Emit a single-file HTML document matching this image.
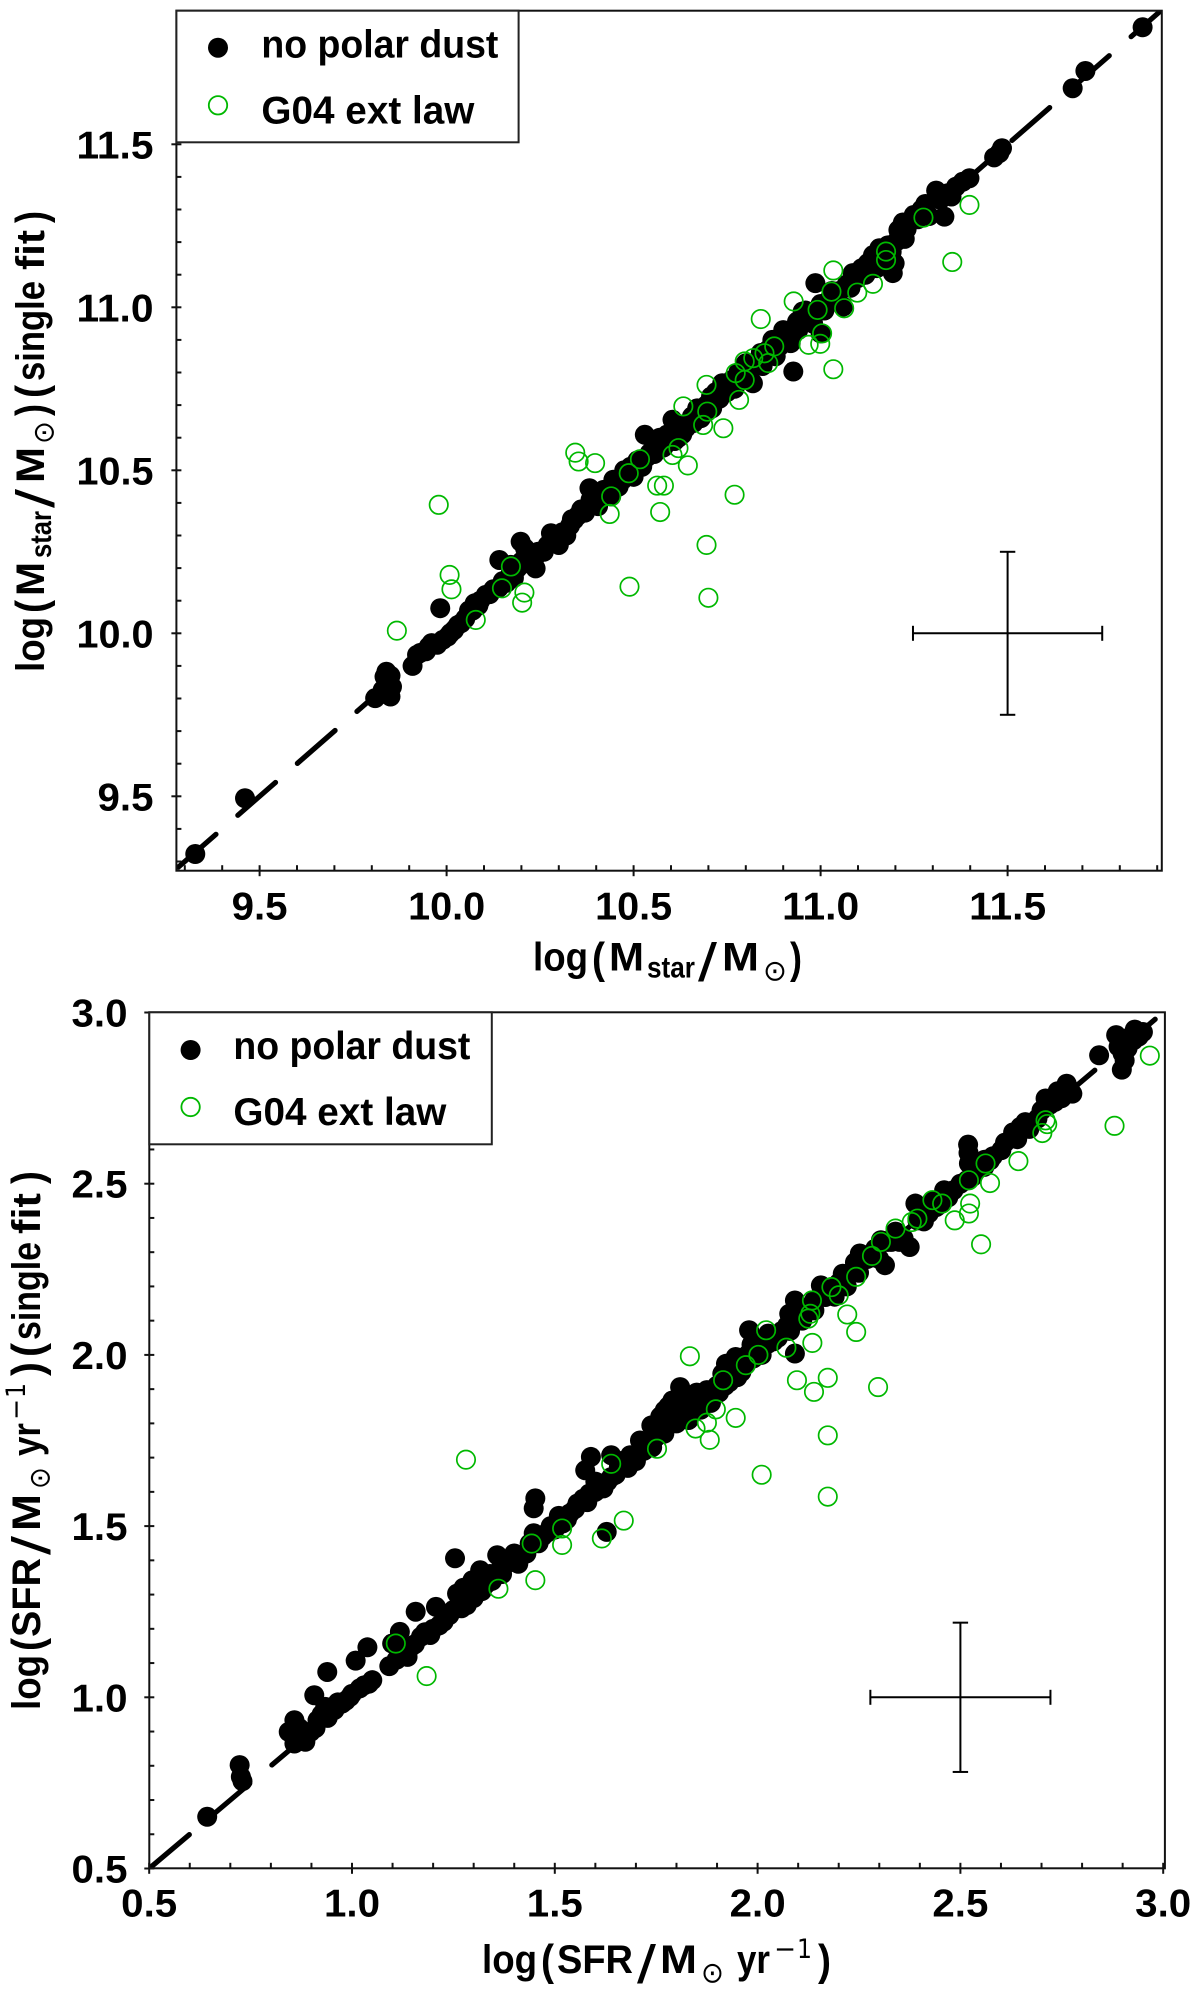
<!DOCTYPE html>
<html lang="en">
<head>
<meta charset="utf-8">
<title>Stellar mass and SFR comparison</title>
<style>
html,body{margin:0;padding:0;background:#fff;}
svg{display:block;}
text{font-family:"Liberation Sans","DejaVu Sans",sans-serif;font-weight:bold;fill:#000;}
.sym{font-family:"DejaVu Sans","Liberation Sans",sans-serif;font-weight:normal;}
.thin{font-weight:normal;}
</style>
</head>
<body>
<svg id="chart" xmlns="http://www.w3.org/2000/svg" width="1200" height="1989" viewBox="0 0 1200 1989">
  <rect x="0" y="0" width="1200" height="1989" fill="#fff"/>
  <g id="panel-mass"></g>
  <g id="panel-sfr"></g>

  <g>
    <text x="533" y="970.7" font-size="40" textLength="55" lengthAdjust="spacingAndGlyphs">log</text>
    <text x="592" y="973" font-size="44" textLength="13" lengthAdjust="spacingAndGlyphs">(</text>
    <text x="609" y="970.7" font-size="40" textLength="35" lengthAdjust="spacingAndGlyphs">M</text>
    <text x="647" y="977.5" font-size="30" textLength="48" lengthAdjust="spacingAndGlyphs">star</text>
    <text class="thin" x="698" y="981" font-size="54" textLength="19" lengthAdjust="spacingAndGlyphs">/</text>
    <text x="722" y="970.7" font-size="40" textLength="37" lengthAdjust="spacingAndGlyphs">M</text>
    <text class="sym" x="763" y="980.5" font-size="29" textLength="24" lengthAdjust="spacingAndGlyphs">⊙</text>
    <text x="790" y="973" font-size="44" textLength="12" lengthAdjust="spacingAndGlyphs">)</text>
  </g>
  <g transform="translate(44,0) rotate(-90)">
    <text x="-672" y="0" font-size="40" textLength="55" lengthAdjust="spacingAndGlyphs">log</text>
    <text x="-613" y="2" font-size="44" textLength="13" lengthAdjust="spacingAndGlyphs">(</text>
    <text x="-596" y="0" font-size="40" textLength="34" lengthAdjust="spacingAndGlyphs">M</text>
    <text x="-558" y="7" font-size="30" textLength="47" lengthAdjust="spacingAndGlyphs">star</text>
    <text class="thin" x="-508" y="10" font-size="54" textLength="19" lengthAdjust="spacingAndGlyphs">/</text>
    <text x="-483" y="0" font-size="40" textLength="36" lengthAdjust="spacingAndGlyphs">M</text>
    <text class="sym" x="-444" y="9.5" font-size="29" textLength="23" lengthAdjust="spacingAndGlyphs">⊙</text>
    <text x="-416" y="2" font-size="44" textLength="12" lengthAdjust="spacingAndGlyphs">)</text>
    <text x="-398" y="2" font-size="44" textLength="13" lengthAdjust="spacingAndGlyphs">(</text>
    <text x="-381" y="0" font-size="40" textLength="100" lengthAdjust="spacingAndGlyphs">single</text>
    <text x="-270" y="0" font-size="40" textLength="40" lengthAdjust="spacingAndGlyphs">fit</text>
    <text x="-223" y="2" font-size="44" textLength="12" lengthAdjust="spacingAndGlyphs">)</text>
  </g>

  <g>
    <text x="482" y="1973" font-size="40" textLength="55" lengthAdjust="spacingAndGlyphs">log</text>
    <text x="541" y="1975" font-size="44" textLength="13" lengthAdjust="spacingAndGlyphs">(</text>
    <text x="557" y="1973" font-size="40" textLength="76" lengthAdjust="spacingAndGlyphs">SFR</text>
    <text class="thin" x="637" y="1983" font-size="54" textLength="19" lengthAdjust="spacingAndGlyphs">/</text>
    <text x="660" y="1973" font-size="40" textLength="37" lengthAdjust="spacingAndGlyphs">M</text>
    <text class="sym" x="701" y="1982.5" font-size="29" textLength="23" lengthAdjust="spacingAndGlyphs">⊙</text>
    <text x="737" y="1973" font-size="40" textLength="33" lengthAdjust="spacingAndGlyphs">yr</text>
    <text class="sym" x="774" y="1958" font-size="27" textLength="22" lengthAdjust="spacingAndGlyphs">−</text>
    <text class="sym" x="797" y="1958" font-size="27" textLength="15" lengthAdjust="spacingAndGlyphs">1</text>
    <text x="818" y="1975" font-size="44" textLength="13" lengthAdjust="spacingAndGlyphs">)</text>
  </g>
  <g transform="translate(40,0) rotate(-90)">
    <text x="-1710" y="0" font-size="40" textLength="55" lengthAdjust="spacingAndGlyphs">log</text>
    <text x="-1651" y="2" font-size="44" textLength="13" lengthAdjust="spacingAndGlyphs">(</text>
    <text x="-1637" y="0" font-size="40" textLength="79" lengthAdjust="spacingAndGlyphs">SFR</text>
    <text class="thin" x="-1555" y="10" font-size="54" textLength="19" lengthAdjust="spacingAndGlyphs">/</text>
    <text x="-1531" y="0" font-size="40" textLength="37" lengthAdjust="spacingAndGlyphs">M</text>
    <text class="sym" x="-1489" y="9.5" font-size="29" textLength="22" lengthAdjust="spacingAndGlyphs">⊙</text>
    <text x="-1456" y="0" font-size="40" textLength="33" lengthAdjust="spacingAndGlyphs">yr</text>
    <text class="sym" x="-1420" y="-15" font-size="27" textLength="21" lengthAdjust="spacingAndGlyphs">−</text>
    <text class="sym" x="-1398" y="-15" font-size="27" textLength="15" lengthAdjust="spacingAndGlyphs">1</text>
    <text x="-1376" y="2" font-size="44" textLength="14" lengthAdjust="spacingAndGlyphs">)</text>
    <text x="-1357" y="2" font-size="44" textLength="14" lengthAdjust="spacingAndGlyphs">(</text>
    <text x="-1340" y="0" font-size="40" textLength="98" lengthAdjust="spacingAndGlyphs">single</text>
    <text x="-1234" y="0" font-size="40" textLength="41" lengthAdjust="spacingAndGlyphs">fit</text>
    <text x="-1184" y="2" font-size="44" textLength="13" lengthAdjust="spacingAndGlyphs">)</text>
  </g>
</svg>

<script>
// ---------- Stellar mass panel data ----------
const massDomain = [9.2775, 11.912];
const massMajorTicks = [9.5, 10.0, 10.5, 11.0, 11.5];
const massTickLabels = ["9.5", "10.0", "10.5", "11.0", "11.5"];
const massMinorTicks = [9.3, 9.4, 9.6, 9.7, 9.8, 9.9, 10.1, 10.2, 10.3, 10.4, 10.6, 10.7, 10.8, 10.9, 11.1, 11.2, 11.3, 11.4, 11.6, 11.7, 11.8, 11.9];
const massBlackX = [9.328,9.461,9.839,9.834,9.854,9.85,9.809,9.829,9.84,9.909,
  9.921,9.952,9.975,9.983,10.003,10.02,10.039,10.06,10.075,10.09,
  10.105,10.125,10.141,10.172,10.15,10.17,10.198,10.238,10.22,10.21,
  10.245,10.279,10.3,10.31,10.341,10.33,10.36,10.382,10.39,10.41,
  10.43,10.446,10.46,10.492,10.523,10.48,10.53,10.563,10.543,10.58,
  10.604,10.62,10.64,10.656,10.686,10.707,10.695,10.737,10.763,10.75,
  10.819,10.79,10.8,10.85,10.83,10.871,10.86,10.89,10.912,10.927,
  10.937,10.952,10.94,10.97,10.994,11.0,10.986,11.06,11.02,11.045,
  11.086,11.07,11.126,11.1,11.157,11.198,11.193,11.17,11.203,11.208,
  11.23,11.249,11.28,11.26,11.309,11.331,11.32,11.362,11.398,11.464,
  11.478,11.485,11.674,11.708,11.861,
  9.85,9.845,9.93,9.945,9.96,9.99,10.01,10.03,10.05,10.07,
  10.085,10.115,10.14,10.16,10.18,10.19,10.2,10.215,10.235,10.26,
  10.27,10.285,10.295,10.32,10.335,10.35,10.37,10.385,10.405,10.42,
  10.44,10.47,10.475,10.5,10.51,10.535,10.555,10.57,10.59,10.61,
  10.625,10.63,10.66,10.67,10.68,10.71,10.72,10.73,10.77,10.78,
  10.8,10.81,10.84,10.845,10.88,10.9,10.92,10.95,10.96,10.98,
  11.0,11.01,11.03,11.05,11.08,11.11,11.12,11.14,11.15,11.18,
  11.19,11.22,11.225,11.27,11.29,11.34,11.35,11.38];
const massBlackY = [9.323,9.494,9.882,9.867,9.836,9.806,9.801,9.826,9.852,9.9,
  9.934,9.959,9.965,10.077,9.99,10.01,10.031,10.07,10.092,10.1,
  10.118,10.135,10.225,10.21,10.16,10.18,10.281,10.199,10.24,10.26,
  10.25,10.307,10.271,10.31,10.348,10.33,10.38,10.445,10.4,10.42,
  10.43,10.471,10.45,10.511,10.511,10.48,10.609,10.583,10.553,10.57,
  10.655,10.6,10.63,10.665,10.675,10.726,10.7,10.767,10.777,10.74,
  10.767,10.79,10.828,10.844,10.82,10.9,10.87,10.88,10.91,10.803,
  10.956,10.987,10.93,10.96,10.997,10.92,11.074,11.002,11.02,11.033,
  11.105,11.07,11.135,11.09,11.181,11.135,11.105,11.15,11.202,11.237,
  11.24,11.283,11.317,11.27,11.358,11.278,11.33,11.37,11.396,11.46,
  11.473,11.488,11.672,11.725,11.859,
  9.87,9.825,9.94,9.945,9.97,9.98,10.0,10.025,10.045,10.07,
  10.085,10.12,10.14,10.155,10.17,10.2,10.22,10.215,10.23,10.25,
  10.27,10.28,10.3,10.3,10.35,10.36,10.37,10.41,10.39,10.44,
  10.42,10.47,10.5,10.48,10.53,10.54,10.55,10.6,10.61,10.59,
  10.64,10.61,10.645,10.69,10.66,10.69,10.74,10.72,10.75,10.8,
  10.78,10.81,10.86,10.82,10.85,10.93,10.89,10.95,10.99,10.95,
  11.01,10.99,11.05,11.05,11.06,11.12,11.1,11.16,11.12,11.19,
  11.17,11.26,11.21,11.3,11.28,11.35,11.34,11.385];
const massGreenX = [9.867,9.979,10.008,10.013,10.078,10.148,10.172,10.208,10.202,10.344,
  10.353,10.397,10.44,10.436,10.487,10.489,10.517,10.563,10.571,10.581,
  10.604,10.62,10.633,10.645,10.686,10.695,10.695,10.697,10.7,10.74,
  10.77,10.773,10.782,10.797,10.797,10.82,10.84,10.85,10.86,10.876,
  10.928,10.968,10.992,10.999,11.004,11.029,11.034,11.034,11.063,11.098,
  11.14,11.175,11.175,11.275,11.352,11.398];
const massGreenY = [10.008,10.394,10.179,10.135,10.041,10.138,10.205,10.125,10.094,10.554,
  10.527,10.522,10.42,10.366,10.491,10.143,10.534,10.453,10.372,10.453,
  10.547,10.568,10.696,10.515,10.639,10.762,10.271,10.68,10.109,10.629,
  10.425,10.798,10.716,10.834,10.777,10.844,10.964,10.859,10.829,10.88,
  11.018,10.885,10.992,10.888,10.92,11.048,11.113,10.81,10.997,11.045,
  11.072,11.171,11.145,11.275,11.139,11.314];
const massErrorBar = [11.5, 10.0, 0.253, 0.25];

// ---------- SFR panel data ----------
const sfrDomain = [0.5, 3.0];
const sfrMajorTicks = [0.5, 1.0, 1.5, 2.0, 2.5, 3.0];
const sfrTickLabels = ["0.5", "1.0", "1.5", "2.0", "2.5", "3.0"];
const sfrMinorTicks = [0.6, 0.7, 0.8, 0.9, 1.1, 1.2, 1.3, 1.4, 1.6, 1.7, 1.8, 1.9, 2.1, 2.2, 2.3, 2.4, 2.6, 2.7, 2.8, 2.9];
const sfrBlackX = [0.643,0.723,0.726,0.73,0.844,0.858,0.858,0.87,0.898,0.907,
  0.915,0.934,0.94,0.957,0.976,0.939,0.995,1.009,1.019,1.038,
  1.042,1.092,1.099,1.118,1.137,1.146,1.157,1.17,1.193,1.207,
  1.226,1.254,1.259,1.27,1.283,1.292,1.297,1.316,1.33,1.358,
  1.368,1.396,1.415,1.438,1.448,1.448,1.452,1.47,1.49,1.52,
  1.537,1.556,1.575,1.589,1.585,1.6,1.611,1.628,1.639,1.639,
  1.658,1.67,1.686,1.71,1.738,1.73,1.75,1.762,1.771,1.78,
  1.79,1.79,1.809,1.82,1.837,1.837,1.85,1.875,1.89,1.913,
  1.922,1.93,1.946,1.95,1.969,1.979,1.985,2.0,2.026,2.026,
  2.05,2.073,2.078,2.092,2.092,2.101,2.13,2.156,2.167,2.186,
  2.21,2.238,2.252,2.285,2.304,2.314,2.33,2.347,2.375,2.389,
  2.394,2.422,2.441,2.46,2.483,2.516,2.519,2.521,2.559,2.573,
  2.601,2.629,2.648,2.7,2.71,2.733,2.762,2.776,2.842,2.884,
  2.898,2.912,2.927,2.95,
  0.87,0.885,0.91,0.925,0.945,0.965,0.985,1.0,1.03,1.05,
  1.11,1.13,1.155,1.18,1.2,1.215,1.24,1.25,1.265,1.275,
  1.285,1.3,1.31,1.32,1.34,1.345,1.37,1.38,1.4,1.41,
  1.43,1.46,1.48,1.5,1.51,1.53,1.55,1.57,1.58,1.6,
  1.62,1.63,1.65,1.66,1.68,1.7,1.71,1.72,1.74,1.75,
  1.76,1.77,1.78,1.79,1.8,1.81,1.82,1.83,1.84,1.85,
  1.86,1.87,1.885,1.9,1.905,1.92,1.94,1.96,1.975,1.99,
  2.01,2.01,2.04,2.06,2.08,2.1,2.11,2.14,2.14,2.17,
  2.19,2.2,2.22,2.24,2.25,2.27,2.29,2.3,2.32,2.34,
  2.35,2.36,2.4,2.41,2.43,2.45,2.47,2.5,2.52,2.53,
  2.54,2.56,2.58,2.61,2.63,2.64,2.66,2.67,2.69,2.72,
  2.74,2.75,2.89,2.9,2.905,2.92,2.93,2.94];
const sfrBlackY = [0.651,0.802,0.768,0.755,0.899,0.933,0.865,0.885,0.899,1.006,
  0.933,0.972,0.94,0.963,0.982,1.074,1.001,1.107,1.026,1.146,
  1.04,1.091,1.157,1.191,1.118,1.148,1.25,1.177,1.182,1.264,
  1.221,1.406,1.303,1.26,1.269,1.294,1.342,1.371,1.33,1.415,
  1.381,1.396,1.415,1.449,1.479,1.552,1.581,1.47,1.5,1.508,
  1.537,1.566,1.663,1.702,1.595,1.6,1.614,1.483,1.643,1.707,
  1.673,1.68,1.707,1.72,1.794,1.75,1.76,1.77,1.838,1.8,
  1.867,1.809,1.906,1.83,1.882,1.838,1.86,1.897,1.89,1.945,
  1.974,1.92,1.994,1.935,1.974,2.072,2.03,2.013,2.062,2.033,
  2.05,2.086,2.12,2.159,2.004,2.12,2.13,2.203,2.169,2.194,
  2.237,2.252,2.296,2.285,2.335,2.262,2.33,2.354,2.315,2.442,
  2.393,2.413,2.432,2.481,2.481,2.51,2.614,2.559,2.549,2.568,
  2.598,2.637,2.666,2.714,2.749,2.739,2.792,2.763,2.875,2.934,
  2.833,2.895,2.919,2.943,
  0.91,0.87,0.91,0.95,0.97,0.985,0.99,1.01,1.035,1.05,
  1.11,1.14,1.155,1.19,1.2,1.21,1.24,1.255,1.29,1.32,
  1.3,1.29,1.33,1.31,1.36,1.34,1.36,1.39,1.42,1.39,
  1.42,1.45,1.48,1.49,1.53,1.52,1.55,1.58,1.57,1.63,
  1.61,1.63,1.65,1.69,1.67,1.69,1.75,1.72,1.73,1.79,
  1.82,1.77,1.85,1.83,1.8,1.87,1.86,1.81,1.85,1.89,
  1.84,1.87,1.86,1.91,1.89,1.91,1.96,1.95,2.0,1.99,
  2.04,2.0,2.04,2.07,2.07,2.14,2.1,2.16,2.13,2.19,
  2.17,2.21,2.2,2.27,2.24,2.28,2.31,2.28,2.33,2.36,
  2.33,2.34,2.41,2.39,2.45,2.44,2.46,2.5,2.59,2.52,
  2.56,2.57,2.58,2.62,2.65,2.63,2.68,2.66,2.69,2.73,
  2.77,2.75,2.9,2.88,2.86,2.93,2.95,2.93];
const sfrGreenX = [1.108,1.184,1.281,1.361,1.443,1.452,1.518,1.518,1.616,1.639,
  1.67,1.752,1.833,1.847,1.875,1.882,1.897,1.915,1.946,1.971,
  2.002,2.01,2.021,2.071,2.097,2.125,2.13,2.134,2.135,2.139,
  2.173,2.173,2.173,2.182,2.2,2.221,2.243,2.243,2.282,2.297,
  2.304,2.34,2.38,2.394,2.431,2.455,2.486,2.521,2.521,2.524,
  2.551,2.562,2.573,2.643,2.702,2.71,2.714,2.88,2.967];
const sfrGreenY = [1.157,1.062,1.694,1.317,1.449,1.342,1.493,1.445,1.464,1.682,
  1.516,1.726,1.996,1.785,1.802,1.752,1.841,1.926,1.816,1.97,
  2.0,1.65,2.072,2.021,1.926,2.106,2.12,2.159,2.035,1.892,
  1.933,1.765,1.586,2.198,2.174,2.118,2.228,2.067,2.289,1.906,
  2.33,2.369,2.388,2.398,2.452,2.442,2.393,2.413,2.51,2.442,
  2.323,2.559,2.502,2.566,2.648,2.685,2.674,2.669,2.874];
const sfrErrorBar = [2.5, 1.0, 0.222, 0.218];

// ---------- Drawing ----------
const SVGNS = "http://www.w3.org/2000/svg";

function mk(parent, tag, attrs, text) {
  const el = document.createElementNS(SVGNS, tag);
  for (const k in attrs) el.setAttribute(k, attrs[k]);
  if (text !== undefined) el.textContent = text;
  parent.appendChild(el);
  return el;
}

function drawPanel(root, cfg) {
  const xs = v => cfg.xAnchor[1] + (v - cfg.xAnchor[0]) * cfg.xUnit;
  const ys = v => cfg.yAnchor[1] - (v - cfg.yAnchor[0]) * cfg.yUnit;
  const [lo, hi] = cfg.domain;

  // identity line
  const clipId = cfg.prefix + "-clip";
  const defs = mk(root, "defs", {});
  const cp = mk(defs, "clipPath", { id: clipId });
  mk(cp, "rect", { x: cfg.left, y: cfg.top, width: cfg.right - cfg.left, height: cfg.bottom - cfg.top });

  const line = mk(root, "line", { x1: xs(lo), y1: ys(lo), x2: xs(hi), y2: ys(hi), stroke: "#000", "stroke-width": 5.2,
    "stroke-linecap": "round", "stroke-dasharray": "50 29", "stroke-dashoffset": "-2.5", "clip-path": "url(#" + clipId + ")" });
  
  

  // black points
  const blackGroup = mk(root, "g", { "clip-path": "url(#" + clipId + ")" });
  
  
  cfg.blackX.forEach((x, i) => {
    const c = mk(blackGroup, "circle", { cx: xs(x), cy: ys(cfg.blackY[i]), r: 10, fill: "#000" });
    
    
  });

  // green points
  const greenGroup = mk(root, "g", { "clip-path": "url(#" + clipId + ")" });
  
  
  cfg.greenX.forEach((x, i) => {
    const c = mk(greenGroup, "circle", { cx: xs(x), cy: ys(cfg.greenY[i]), r: 9.2, fill: "none", stroke: "#00b800", "stroke-width": 1.7 });
    
    
  });

  // error bar
  const [ex, ey, exErr, eyErr] = cfg.errorBar;
  const eb = mk(root, "g", { stroke: "#000", "stroke-width": 2, fill: "none" });
  
  
  mk(eb, "line", { x1: xs(ex - exErr), y1: ys(ey), x2: xs(ex + exErr), y2: ys(ey) });
  mk(eb, "line", { x1: xs(ex), y1: ys(ey - eyErr), x2: xs(ex), y2: ys(ey + eyErr) });
  mk(eb, "line", { x1: xs(ex - exErr), y1: ys(ey) - 7.5, x2: xs(ex - exErr), y2: ys(ey) + 7.5 });
  mk(eb, "line", { x1: xs(ex + exErr), y1: ys(ey) - 7.5, x2: xs(ex + exErr), y2: ys(ey) + 7.5 });
  mk(eb, "line", { x1: xs(ex) - 7.7, y1: ys(ey - eyErr), x2: xs(ex) + 7.7, y2: ys(ey - eyErr) });
  mk(eb, "line", { x1: xs(ex) - 7.7, y1: ys(ey + eyErr), x2: xs(ex) + 7.7, y2: ys(ey + eyErr) });

  // axes frame
  const frame = mk(root, "rect", { x: cfg.left, y: cfg.top, width: cfg.right - cfg.left, height: cfg.bottom - cfg.top, fill: "none", stroke: "#111", "stroke-width": 2 });
  
  

  // ticks
  const xAxis = mk(root, "g", { stroke: "#111", "stroke-width": 2 });
  
  
  const yAxis = mk(root, "g", { stroke: "#111", "stroke-width": 2 });
  
  
  cfg.minor.forEach(v => {
    mk(xAxis, "line", { x1: xs(v), y1: cfg.bottom - 5.5, x2: xs(v), y2: cfg.bottom });
    mk(yAxis, "line", { x1: cfg.left, y1: ys(v), x2: cfg.left + 5, y2: ys(v) });
  });
  cfg.major.forEach(v => {
    mk(xAxis, "line", { x1: xs(v), y1: cfg.bottom - 5.5, x2: xs(v), y2: cfg.bottom + 5.5 });
    mk(yAxis, "line", { x1: cfg.left - 5, y1: ys(v), x2: cfg.left + 5, y2: ys(v) });
  });

  // tick labels
  cfg.major.forEach((v, i) => {
    const label = cfg.labels[i];
    const w = label.length === 4 ? 77 : 56;
    const tx = mk(root, "text", { x: xs(v), y: cfg.xLabelY, "font-size": 39, "text-anchor": "middle", textLength: w, lengthAdjust: "spacingAndGlyphs" }, label);
    
    
    const ty = mk(root, "text", { x: cfg.yLabelRight, y: ys(v) + 14, "font-size": 39, "text-anchor": "end", textLength: w, lengthAdjust: "spacingAndGlyphs" }, label);
    
    
  });

  // legend
  const lg = mk(root, "g", {});
  
  
  const l = cfg.legend;
  mk(lg, "rect", { x: cfg.left, y: cfg.top, width: l.right - cfg.left, height: l.bottom - cfg.top, fill: "#fff", stroke: "#222", "stroke-width": 2 });
  const e1 = mk(lg, "circle", { cx: l.markerX, cy: l.blackY, r: 10, fill: "#000" });
  
  
  const e2 = mk(lg, "circle", { cx: l.markerX, cy: l.greenY, r: 9.2, fill: "none", stroke: "#00b800", "stroke-width": 1.8 });
  
  
  const t1 = mk(lg, "text", { x: l.textX, y: l.base1, "font-size": 39, textLength: 237, lengthAdjust: "spacingAndGlyphs" }, "no polar dust");
  
  
  const t2 = mk(lg, "text", { x: l.textX, y: l.base2, "font-size": 39, textLength: 213, lengthAdjust: "spacingAndGlyphs" }, "G04 ext law");
  
  
}

drawPanel(document.getElementById("panel-mass"), {
  prefix: "mass", left: 176.4, right: 1161.8, top: 10.7, bottom: 870.7,
  xAnchor: [10, 446.6], xUnit: 374, yAnchor: [10, 633.3], yUnit: 326,
  domain: massDomain, major: massMajorTicks, minor: massMinorTicks, labels: massTickLabels,
  blackX: massBlackX, blackY: massBlackY, greenX: massGreenX, greenY: massGreenY,
  errorBar: massErrorBar, xLabelY: 919.3, yLabelRight: 153.5,
  legend: { right: 518.6, bottom: 142.3, markerX: 218, blackY: 47.7, greenY: 105.3, textX: 261.4, base1: 57.3, base2: 123.3 }
});

drawPanel(document.getElementById("panel-sfr"), {
  prefix: "sfr", left: 149.3, right: 1164.9, top: 1012.3, bottom: 1868.3,
  xAnchor: [1.0, 352], xUnit: 405.6, yAnchor: [1.0, 1697.3], yUnit: 342.4,
  domain: sfrDomain, major: sfrMajorTicks, minor: sfrMinorTicks, labels: sfrTickLabels,
  blackX: sfrBlackX, blackY: sfrBlackY, greenX: sfrGreenX, greenY: sfrGreenY,
  errorBar: sfrErrorBar, xLabelY: 1916.7, yLabelRight: 127.5,
  legend: { right: 491.8, bottom: 1144.3, markerX: 190.6, blackY: 1050, greenY: 1107, textX: 233.4, base1: 1059, base2: 1125 }
});
</script>
</body>
</html>
